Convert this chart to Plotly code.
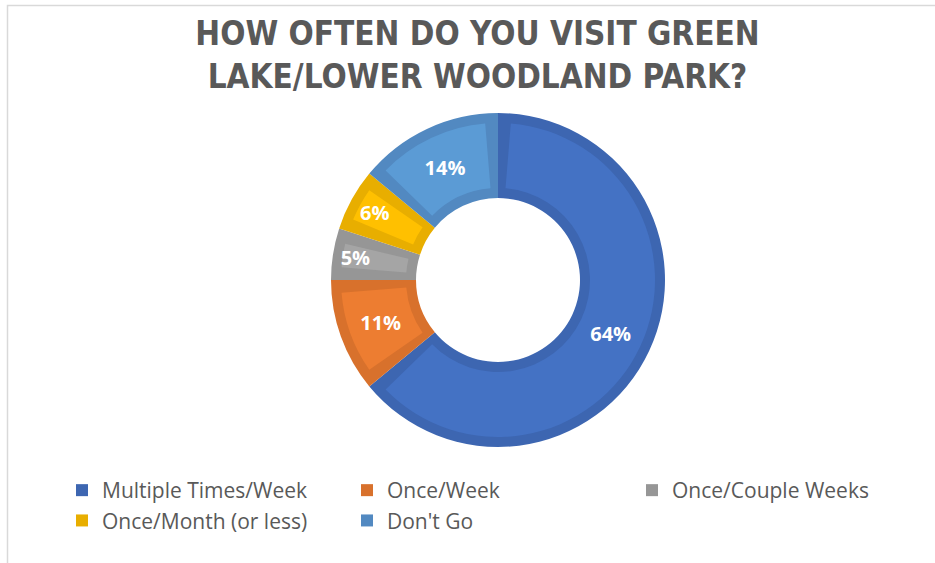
import plotly.graph_objects as go

# Survey answers: how often respondents visit Green Lake / Lower Woodland Park
categories = ["Multiple Times/Week", "Once/Week", "Once/Couple Weeks",
              "Once/Month (or less)", "Don't Go"]
shares = [64, 11, 5, 6, 14]

fill_colors = ["#4472C4", "#ED7D31", "#A5A5A5", "#FFC000", "#5B9BD5"]
edge_colors = ["#3D66B1", "#D8712C", "#969696", "#E8AE00", "#5289C1"]

title_text = "HOW OFTEN DO YOU VISIT GREEN<br>LAKE/LOWER WOODLAND PARK?"

W, H = 935, 563
CX, CY = 498, 283          # donut centre (px from left / bottom)
R_OUT, R_IN = 167, 82      # ring radii
BAND = 10                  # width of the darker rim inside each slice
GAP = 1.3                  # angular share of the rim along slice edges

def domain(radius):
    return dict(x=[(CX - radius) / W, (CX + radius) / W],
                y=[(CY - radius) / H, (CY + radius) / H])

fig = go.Figure()

# Base ring: each slice in its darker rim colour
fig.add_trace(go.Pie(
    labels=categories, values=shares, sort=False, direction="clockwise",
    rotation=0, hole=R_IN / R_OUT, domain=domain(R_OUT),
    marker=dict(colors=edge_colors, line=dict(width=0)),
    textinfo="none", hoverinfo="skip", showlegend=True,
))

# Lighter inner fill, inset from the rim on every side
inner_labels, inner_values, inner_colors = [], [], []
for lab, v, c in zip(categories, shares, fill_colors):
    inner_labels += [lab + " start", lab + " fill", lab + " end"]
    inner_values += [GAP, v - 2 * GAP, GAP]
    inner_colors += ["rgba(0,0,0,0)", c, "rgba(0,0,0,0)"]

r2_out, r2_in = R_OUT - BAND, R_IN + BAND
fig.add_trace(go.Pie(
    labels=inner_labels, values=inner_values, sort=False, direction="clockwise",
    rotation=0, hole=r2_in / r2_out, domain=domain(r2_out),
    marker=dict(colors=inner_colors, line=dict(width=0)),
    textinfo="none", hoverinfo="skip", showlegend=False,
))

# Percentage labels on top
fig.add_trace(go.Pie(
    labels=[c + " label" for c in categories], values=shares, sort=False,
    direction="clockwise", rotation=0, hole=R_IN / R_OUT, domain=domain(R_OUT),
    marker=dict(colors=["rgba(0,0,0,0)"] * len(shares), line=dict(width=0)),
    texttemplate="%{value}%", textposition="inside",
    insidetextorientation="horizontal",
    textfont=dict(family="Open Sans, Liberation Sans, sans-serif",
                  size=20, color="white", weight="bold"),
    hoverinfo="skip", showlegend=False,
))

# Light chart frame
fig.add_shape(type="rect", xref="paper", yref="paper",
              x0=7.5 / W, x1=1.02, y0=-0.02, y1=(H - 5.5) / H,
              line=dict(color="#D9D9D9", width=1.5), fillcolor="rgba(0,0,0,0)")

fig.update_layout(
    width=W, height=H,
    margin=dict(l=0, r=0, t=0, b=0),
    paper_bgcolor="white", plot_bgcolor="white",
    title=dict(text=title_text, x=477.5 / W, xanchor="center", y=(H - 45) / H,
               yanchor="top",
               font=dict(family="Liberation Sans Narrow, DejaVu Sans Condensed, Arial Narrow, sans-serif",
                         size=33, color="#595959", weight="bold")),
    legend=dict(orientation="h", x=62 / W, xanchor="left", y=(H - 470) / H,
                yanchor="top", entrywidth=240, entrywidthmode="pixels",
                font=dict(family="Open Sans, Liberation Sans, sans-serif",
                          size=21, color="#595959"),
                bgcolor="rgba(0,0,0,0)", traceorder="normal"),
)

fig.write_html("out.html")
